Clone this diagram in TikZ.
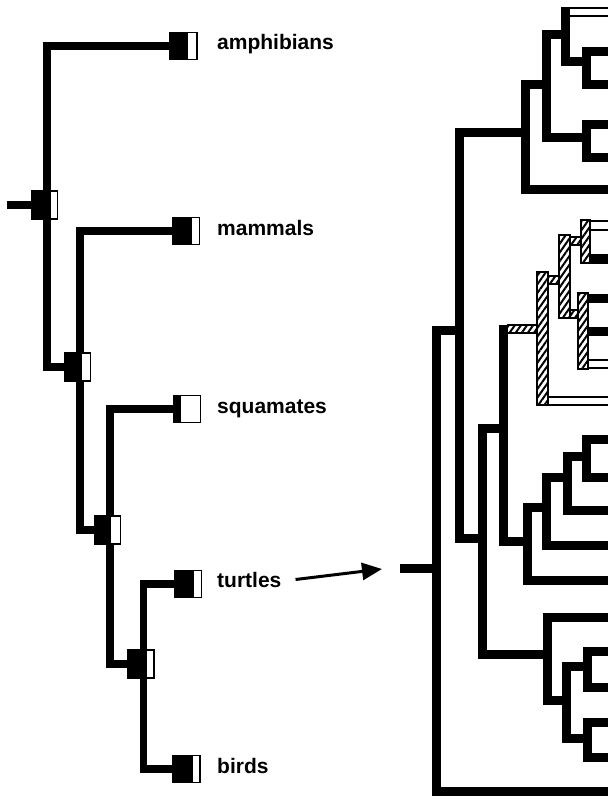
\documentclass[tikz,border=0pt]{standalone}
\usepackage{fontspec}
\setmainfont{Liberation Sans}
\usetikzlibrary{arrows.meta,patterns.meta,positioning}
\tikzset{
    tree line/.style={
        line width=9pt,
        line cap=rect,
        line join=miter
    },
    thin tree line/.style={
        line width=7.5pt,
        line join=miter
    },
    taxon box/.style={
        draw, fill=white, line width=1.2pt, inner sep=0pt,
        minimum width=27pt, minimum height=27pt,
        path picture={
            \fill[black] (path picture bounding box.south west)
            rectangle ([xshift=-#1]path picture bounding box.north east);
        }
    },
    node box/.style={
        taxon box=#1,
        minimum width=26pt,
        minimum height=28pt
    },
    taxon label/.style={
        anchor=base west, inner sep=0pt,
        font=\fontsize{21}{24}\selectfont\bfseries
    },
    open bar/.style={
        draw, fill=white, line width=1.2pt
    },
    hatched bar/.style={
        draw, line width=1.2pt,
        pattern={Lines[angle=55,distance=5pt,line width=2pt]}
    }
}
\begin{document}
\begin{tikzpicture}[x=1pt, y=-1pt]
\useasboundingbox (0,0) rectangle (607,799);

% small tree on the left
\coordinate (stub) at (7,205);
\node[node box=7pt] (n1) at (44.5,205) {};
\node[node box=9pt] (n2) at (77.5,367) {};
\node[node box=10pt] (n3) at (107.5,530) {};
\node[node box=7pt] (n4) at (141,664) {};

\node[taxon box=9pt] (amph) at (183.5,46) {};
\node[taxon box=8pt] (mamm) at (186,231) {};
\node[taxon box=20pt] (squa) at (187,409) {};
\node[taxon box=8pt] (turt) at (188,584) {};
\node[taxon box=7pt] (bird) at (186.5,769) {};

\node[taxon label] (amph text) at (217,50) {amphibians};
\node[taxon label] (mamm text) at (217,236) {mammals};
\node[taxon label] (squa text) at (217,413) {squamates};
\node[taxon label] (turt text) at (217,587) {turtles};
\node[taxon label] (bird text) at (217,773) {birds};

\draw[thin tree line] (stub) -- (n1.west);
\draw[thin tree line] (amph.west) -| ([xshift=2.5pt]n1.north);
\draw[thin tree line] ([xshift=2.5pt]n1.south) |- (n2.west);
\draw[thin tree line] (mamm.west) -| ([xshift=2.5pt]n2.north);
\draw[thin tree line] ([xshift=2.5pt]n2.south) |- (n3.west);
\draw[thin tree line] (squa.west) -| ([xshift=2.5pt]n3.north);
\draw[thin tree line] ([xshift=2.5pt]n3.south) |- (n4.west);
\draw[thin tree line] (turt.west) -| ([xshift=2.5pt]n4.north);
\draw[thin tree line] ([xshift=2.5pt]n4.south) |- (bird.west);

% big tree on the right
\coordinate (t1) at (612,12);
\coordinate (t2) at (612,52);
\coordinate (t3) at (612,85);
\coordinate (t4) at (612,125);
\coordinate (t5) at (612,158);
\coordinate (t6) at (612,190);
\coordinate (t8) at (612,259);
\coordinate (t9) at (612,298);
\coordinate (t10) at (612,331);
\coordinate (t13) at (612,439);
\coordinate (t14) at (612,477);
\coordinate (t15) at (612,510);
\coordinate (t16) at (612,545);
\coordinate (t17) at (612,580);
\coordinate (t18) at (612,617);
\coordinate (t19) at (612,651);
\coordinate (t20) at (612,687);
\coordinate (t21) at (612,722);
\coordinate (t22) at (612,757);
\coordinate (t23) at (612,791);

\coordinate (a1) at (586,62);
\coordinate (a2) at (565,35);
\coordinate (a3) at (586,138);
\coordinate (a4) at (546,85);
\coordinate (a5) at (525,133);
\coordinate (b1) at (586,456);
\coordinate (b2) at (567,477);
\coordinate (b3) at (546,507);
\coordinate (b4) at (527,541);
\coordinate (c1) at (587,666);
\coordinate (c2) at (587,738);
\coordinate (c3) at (566,700);
\coordinate (c4) at (547,654);
\coordinate (d4) at (542.5,329);
\coordinate (e1) at (503,428);
\coordinate (e2) at (482,538);
\coordinate (e3) at (459,330);
\coordinate (root) at (436,568);
\coordinate (rootstub) at (404,568);
\coordinate (tip) at (382,569);

\draw[tree line] (t2) -| (a1) |- (t3);
\draw[tree line] (a2 |- t1) |- (a1);
\draw[tree line] (t4) -| (a3) |- (t5);
\draw[tree line] (a2) -| (a4) |- (a3);
\draw[tree line] (a4) -| (a5) |- (t6);
\draw[open bar] (569.5,8) rectangle (612,16);

\draw[tree line] (t13) -| (b1) |- (t14);
\draw[tree line] (b1) -| (b2) |- (t15);
\draw[tree line] (b2) -| (b3) |- (t16);
\draw[tree line] (b3) -| (b4) |- (t17);
\draw[tree line] (e1 |- d4) |- (b4);

\draw[tree line] (t19) -| (c1) |- (t20);
\draw[tree line] (t21) -| (c2) |- (t22);
\draw[tree line] (c1) -| (c3) |- (c2);
\draw[tree line] (t18) -| (c4) |- (c3);

\draw[tree line] (e1) -| (e2) |- (c4);
\draw[tree line] (a5) -| (e3) |- (e2);
\draw[tree line] (e3) -| (root) |- (t23);
\draw[tree line] (rootstub) -- (root);

% hatched group
\draw[tree line, line cap=butt] (590,259) -- (t8);
\draw[tree line, line cap=butt] (588,298) -- (t9);
\draw[tree line, line cap=butt] (588,331) -- (t10);
\draw[hatched bar] (507.5,325) rectangle (537,333);
\draw[hatched bar] (537,272) rectangle (548,405);
\draw[hatched bar] (548,276) rectangle (559,284);
\draw[hatched bar] (559,235) rectangle (570,318);
\draw[hatched bar] (570,237) rectangle (581,245);
\draw[hatched bar] (581,220) rectangle (590,263);
\draw[hatched bar] (570,310) rectangle (578,318);
\draw[hatched bar] (578,293) rectangle (588,369);
\draw[open bar] (590,221) rectangle (612,230);
\draw[open bar] (588,360) rectangle (612,368);
\draw[open bar] (548,397) rectangle (612,405);

\draw[line width=3pt, -{Triangle[length=20pt,width=17pt]}] ([xshift=14pt]turt text.east) -- (tip);
\end{tikzpicture}
\end{document}
